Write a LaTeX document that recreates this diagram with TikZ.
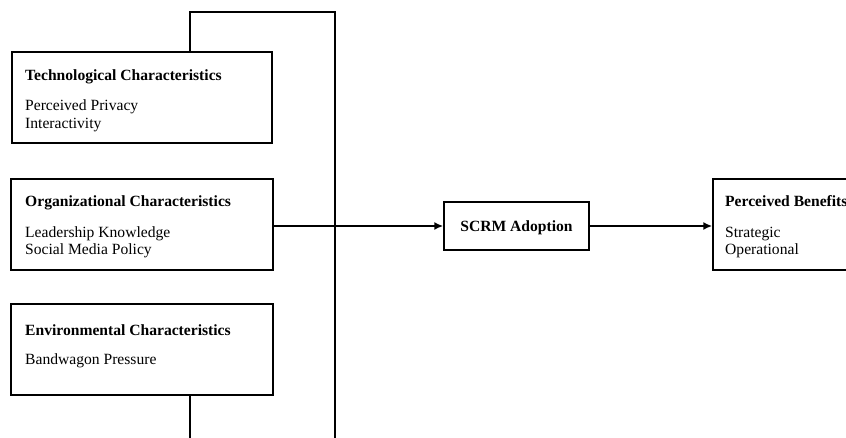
\documentclass[tikz,border=0pt]{standalone}
\usepackage{fontspec}
\setmainfont{Liberation Serif}
\usetikzlibrary{arrows.meta}
\begin{document}
\begin{tikzpicture}[x=1pt,y=-1pt,
  box/.style={draw,line width=1.4pt,inner sep=0pt},
  conn/.style={line width=2.4pt},
  arr/.style={conn,-{Latex[length=9pt,width=8pt]}},
  txt/.style={inner sep=0pt,anchor=base west,font=\fontsize{15.6}{18}\selectfont},
  ttl/.style={txt,font=\fontsize{15.6}{18}\selectfont\bfseries}]
\useasboundingbox (0,0) rectangle (846,438);
% boxes
\node[box,minimum width=260pt,minimum height=91pt] (tech) at (142,97.5) {};
\node[box,minimum width=262pt,minimum height=91pt] (org) at (142,224.5) {};
\node[box,minimum width=262pt,minimum height=91pt] (env) at (142,349.5) {};
\node[box,minimum width=145pt,minimum height=48pt,text height=12pt,text depth=0pt,
      font=\fontsize{15.6}{18}\selectfont\bfseries] (scrm) at (516.5,226) {SCRM Adoption};
\node[box,minimum width=187pt,minimum height=91pt] (pb) at (806.5,224.5) {};
% texts
\node[ttl] (techT) at (25,81) {Technological Characteristics};
\node[txt] (techA) at (25,111) {Perceived Privacy};
\node[txt] (techB) at (25,129) {Interactivity};
\node[ttl] (orgT) at (25,207) {Organizational Characteristics};
\node[txt] (orgA) at (25,238) {Leadership Knowledge};
\node[txt] (orgB) at (25,255) {Social Media Policy};
\node[ttl] (envT) at (25,335) {Environmental Characteristics};
\node[txt] (envA) at (25,364) {Bandwagon Pressure};
\node[ttl] (pbT) at (725,207) {Perceived Benefits};
\node[txt] (pbA) at (725,238) {Strategic};
\node[txt] (pbB) at (725,255) {Operational};
% connectors
\coordinate (tl) at (190,12);
\coordinate (tr) at (335,12);
\coordinate (br) at (335,440);
\coordinate (eb) at (190,440);
\draw[conn] (tech.north -| tl) -- (tl) -- (tr) -- (br);
\draw[conn] (env.south -| eb) -- (eb);
\draw[arr] (org.east |- scrm.west) -- (scrm.west);
\draw[arr] (scrm.east) -- (pb.west |- scrm.east);
\end{tikzpicture}
\end{document}
